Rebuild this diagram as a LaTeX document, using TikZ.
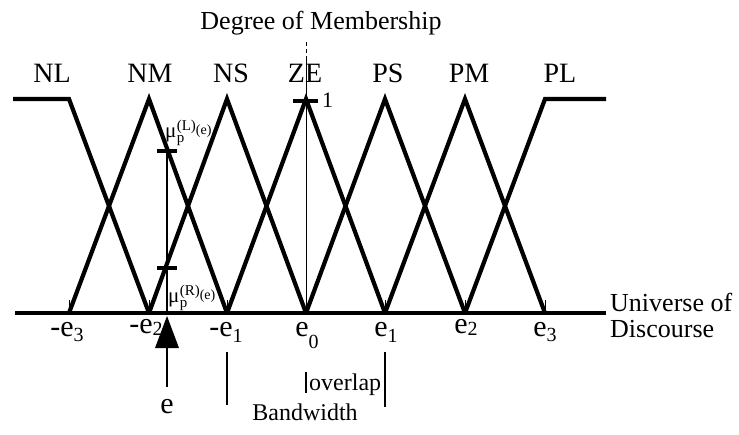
\documentclass[tikz,border=0pt]{standalone}
\usepackage{fontspec}
\setmainfont{Liberation Serif}
\newcommand{\esub}[3]{#1\raisebox{-#3pt}{\fontsize{20}{20}\selectfont #2}}
\newcommand{\mulab}[1]{\fontsize{21}{21}\selectfont μ\kern0.3pt\rlap{\raisebox{-5pt}{\fontsize{15}{15}\selectfont p}}\raisebox{7pt}{\fontsize{15}{15}\selectfont(#1)}\raisebox{3pt}{\fontsize{14}{14}\selectfont(e)}}
\begin{document}
\begin{tikzpicture}[x=1pt,y=-1pt,
  mf/.style={line width=4.2pt,line join=miter,line cap=butt},
  thinline/.style={line width=0.8pt},
  big/.style={font=\fontsize{28}{28}\selectfont,inner sep=0pt},
  mid/.style={font=\fontsize{26}{26}\selectfont,inner sep=0pt},
  elab/.style={font=\fontsize{30}{30}\selectfont,inner sep=0pt,anchor=base}]
\useasboundingbox (0,0) rectangle (739,434);
\foreach \n/\x in {m3/69,m2/149,m1/227,z/306,p1/385,p2/465,p3/545}{
  \coordinate (b\n) at (\x,313);
  \coordinate (t\n) at (\x,99);
  \coordinate (k\n) at (\x,300);
}
\coordinate (nlstart) at (13,99);
\coordinate (plend) at (606,99);
\coordinate (axl) at (15,313);
\coordinate (axr) at (606,313);
% centre line
\coordinate (ctop) at (306,42);
\coordinate (cmid) at (306,60);
\draw[thinline,dash pattern=on 4pt off 3pt] (ctop) -- (cmid);
\draw[thinline] (cmid) -- (bz);
% vertex ticks
\foreach \n in {m3,m2,m1,z,p1,p2,p3}{ \draw[thinline] (k\n) -- (b\n); }
% membership functions
\draw[mf] (nlstart) -- (tm3) -- (bm2);
\draw[mf] (bm3) -- (tm2) -- (bm1);
\draw[mf] (bm2) -- (tm1) -- (bz);
\draw[mf] (bm1) -- (tz) -- (bp1);
\draw[mf] (bz) -- (tp1) -- (bp2);
\draw[mf] (bp1) -- (tp2) -- (bp3);
\draw[mf] (bp2) -- (tp3) -- (plend);
\draw[mf] (axl) -- (axr);
% one tick
\coordinate (onel) at (293,101);
\coordinate (oner) at (318,101);
\draw[line width=3.6pt] (onel) -- (oner);
\node[font=\fontsize{22}{22}\selectfont,inner sep=0pt,anchor=west] (one) at (322,100) {1};
% e line
\coordinate (eu) at (167,151);
\coordinate (el) at (167,268);
\coordinate (ea) at (167,313);
\draw[line width=2pt] (eu) -- (ea);
\draw[line width=3.4pt] ([xshift=-10pt]eu) -- ([xshift=10pt]eu);
\draw[line width=3.4pt] ([xshift=-10pt]el) -- ([xshift=10pt]el);
\node[inner sep=0pt,anchor=base west] (muL) at (165,137) {\mulab{L}};
\node[inner sep=0pt,anchor=base west] (muR) at (168,302) {\mulab{R}};
% arrow
\coordinate (etip) at (167,316);
\coordinate (ebl) at (155,348);
\coordinate (ebr) at (179,348);
\coordinate (eshaft) at (167,387);
\fill (etip) -- (ebl) -- (ebr) -- cycle;
\draw[line width=2.4pt] (167,346) -- (eshaft);
\node[elab] (elabel) at (167,413) {e};
% titles
\node[mid,anchor=base] (title) at (321,29) {Degree of Membership};
\node[big,anchor=base] (NL) at (52,82) {NL};
\node[big,anchor=base] (NM) at (150,82) {NM};
\node[big,anchor=base] (NS) at (231,82) {NS};
\node[big,anchor=base] (ZE) at (305,82) {ZE};
\node[big,anchor=base] (PS) at (388,82) {PS};
\node[big,anchor=base] (PM) at (469,82) {PM};
\node[big,anchor=base] (PL) at (560,82) {PL};
\node[mid,anchor=base west] (univ) at (610,311) {Universe of};
\node[mid,anchor=base west] (disc) at (610,337) {Discourse};
% axis labels
\node[elab] (lm3) at (67,336) {\esub{-e}{3}{5}};
\node[elab] (lm2) at (146,333) {\esub{-e}{2}{2}};
\node[elab] (lm1) at (226,336) {\esub{-e}{1}{6}};
\node[elab] (lz) at (307,336) {\esub{e}{0}{12}};
\node[elab] (lp1) at (386,336) {\esub{e}{1}{6}};
\node[elab] (lp2) at (466,333) {\esub{e}{2}{2}};
\node[elab] (lp3) at (545,336) {\esub{e}{3}{5}};
% bandwidth / overlap
\coordinate (bwl1) at (227,352);
\coordinate (bwl2) at (227,405);
\coordinate (bwr1) at (385,352);
\coordinate (bwr2) at (385,407);
\draw[line width=2pt] (bwl1) -- (bwl2);
\draw[line width=2pt] (bwr1) -- (bwr2);
\coordinate (ov1) at (306,372);
\coordinate (ov2) at (306,393);
\draw[line width=2pt] (ov1) -- (ov2);
\node[font=\fontsize{24}{24}\selectfont,inner sep=0pt,anchor=base west] (overlap) at (309,390) {overlap};
\node[font=\fontsize{24}{24}\selectfont,inner sep=0pt,anchor=base] (bw) at (305,420) {Bandwidth};
\end{tikzpicture}
\end{document}
